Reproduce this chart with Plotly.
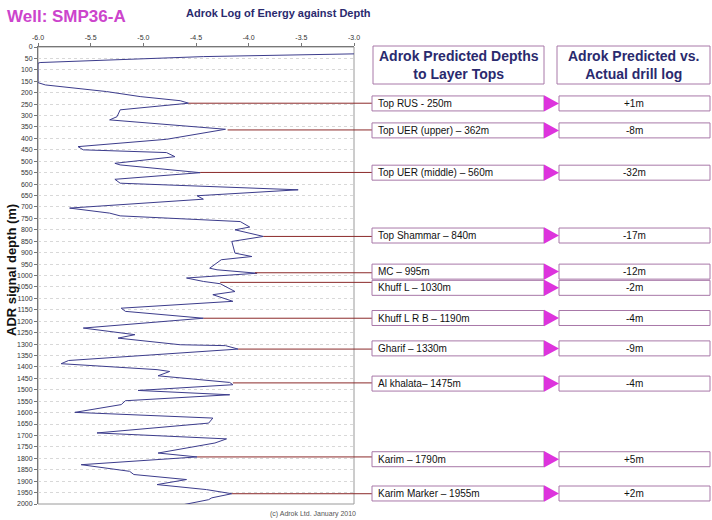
import plotly.graph_objects as go

# ---- data ----
depth = [30, 35, 42, 68, 71, 156, 166, 195, 217, 235, 246, 275, 305, 319, 360, 404, 436, 450, 462, 480,
         509, 516, 550, 579, 596, 625, 651, 666, 705, 727, 739, 764, 788, 800, 829, 851, 902, 917, 931,
         968, 975, 990, 1011, 1026, 1036, 1070, 1084, 1113, 1143, 1157, 1187, 1230, 1259, 1274, 1303,
         1307, 1322, 1372, 1386, 1412, 1420, 1439, 1468, 1478, 1503, 1522, 1548, 1565, 1599, 1624, 1646,
         1689, 1715, 1733, 1777, 1794, 1828, 1857, 1871, 1893, 1915, 1937, 1955, 1973, 1981, 2003]
energy = [-3.0, -3.64, -4.43, -5.98, -6.0, -6.0, -5.93, -5.35, -5.03, -4.65, -4.57, -5.22, -5.25, -5.32,
          -4.22, -4.78, -5.62, -5.57, -4.78, -4.70, -5.27, -5.22, -4.46, -5.27, -5.22, -3.53, -4.49,
          -4.43, -5.70, -5.32, -5.22, -4.08, -3.99, -4.13, -3.86, -4.16, -4.13, -3.97, -4.26, -4.37,
          -4.30, -3.92, -4.59, -4.43, -4.27, -4.13, -4.34, -4.15, -5.21, -5.17, -4.43, -5.57, -5.08,
          -5.24, -4.65, -4.22, -4.10, -5.71, -5.78, -4.87, -4.75, -4.86, -4.18, -4.15, -5.05, -4.18,
          -5.17, -5.21, -5.65, -4.34, -4.38, -5.44, -4.21, -4.32, -4.86, -4.49, -5.59, -5.13, -5.09,
          -4.59, -4.87, -4.40, -4.16, -4.35, -4.38, -4.62]

layer_names = ["Top RUS - 250m", "Top UER (upper) \u2013 362m", "Top UER (middle) \u2013 560m",
               "Top Shammar \u2013 840m", "MC \u2013 995m", "Khuff L \u2013 1030m", "Khuff L R B \u2013 1190m",
               "Gharif \u2013 1330m", "Al khalata\u2013 1475m", "Karim \u2013 1790m", "Karim Marker \u2013 1955m"]
layer_diff = ["+1m", "-8m", "-32m", "-17m", "-12m", "-2m", "-4m", "-9m", "-4m", "+5m", "+2m"]
leader_depth = [246, 363, 549, 829, 988, 1030, 1187, 1322, 1470, 1794, 1955]
leader_start = [-4.57, -4.20, -4.46, -3.86, -3.94, -4.27, -4.43, -4.10, -4.15, -4.49, -4.16]
row_depth = [247, 365, 550, 825, 983, 1054, 1186, 1319, 1473, 1804, 1954]

x_ticks = [-6.0, -5.5, -5.0, -4.5, -4.0, -3.5, -3.0]
y_ticks = list(range(0, 2001, 50))

W, H = 712, 520
def px(x):
    return x / W
def py(y):
    return 1 - y / H

fig = go.Figure()
fig.add_trace(go.Scatter(x=energy, y=depth, mode="lines",
                         line=dict(color="#3c3c8c", width=1), showlegend=False, hoverinfo="skip"))

shapes = []
annotations = []
half = 7.5 / 0.2287  # half box height in metres
box_col = "#a878a8"
font_fam = "Liberation Sans, Arial"
for i, name in enumerate(layer_names):
    d = row_depth[i]
    shapes.append(dict(type="line", xref="x", yref="y", x0=leader_start[i], x1=-3.0,
                       y0=leader_depth[i], y1=leader_depth[i], line=dict(color="#8b2a2a", width=1)))
    shapes.append(dict(type="line", xref="paper", yref="y", x0=px(354), x1=px(372),
                       y0=leader_depth[i], y1=leader_depth[i], line=dict(color="#8b2a2a", width=1)))
    shapes.append(dict(type="rect", xref="paper", yref="y", x0=px(372), x1=px(544),
                       y0=d - half, y1=d + half, line=dict(color=box_col, width=1), fillcolor="white"))
    shapes.append(dict(type="rect", xref="paper", yref="y", x0=px(559), x1=px(710),
                       y0=d - half, y1=d + half, line=dict(color=box_col, width=1), fillcolor="white"))
    shapes.append(dict(type="path", xref="paper", yref="y",
                       path=f"M {px(544)},{d - half - 3} L {px(559)},{d} L {px(544)},{d + half + 3} Z",
                       line=dict(color="#dd33dd", width=0), fillcolor="#dd33dd"))
    annotations.append(dict(xref="paper", yref="y", x=px(376), y=d, text=name, showarrow=False,
                            xanchor="left", yanchor="middle",
                            font=dict(family=font_fam, size=10, color="#111")))
    annotations.append(dict(xref="paper", yref="y", x=px(634), y=d, text=layer_diff[i], showarrow=False,
                            xanchor="center", yanchor="middle",
                            font=dict(family=font_fam, size=10, color="#111")))

for x0, x1, txt in [(373, 544, "<b>Adrok Predicted Depths<br>to Layer Tops</b>"),
                    (557, 710, "<b>Adrok Predicted vs.<br>Actual drill log</b>")]:
    shapes.append(dict(type="rect", xref="paper", yref="paper", x0=px(x0), x1=px(x1),
                       y0=py(84), y1=py(46), line=dict(color=box_col, width=1), fillcolor="white"))
    annotations.append(dict(xref="paper", yref="paper", x=px((x0 + x1) / 2), y=py(65), text=txt,
                            showarrow=False, xanchor="center", yanchor="middle",
                            font=dict(family=font_fam, size=14, color="#2a2a6e")))

shapes.append(dict(type="rect", xref="paper", yref="paper", x0=px(38), x1=px(354),
                   y0=py(504), y1=py(47), line=dict(color="#9a9a9a", width=1), layer="below"))

annotations += [
    dict(xref="paper", yref="paper", x=px(5), y=py(16), text="<b>Well: SMP36-A</b>", showarrow=False,
         xanchor="left", yanchor="middle", font=dict(family=font_fam, size=17, color="#cc44cc")),
    dict(xref="paper", yref="paper", x=px(278), y=py(13), text="<b>Adrok Log of Energy against Depth</b>",
         showarrow=False, xanchor="center", yanchor="middle",
         font=dict(family=font_fam, size=11, color="#2a2a6e")),
    dict(xref="paper", yref="paper", x=px(11), y=py(270), text="<b>ADR signal depth (m)</b>", showarrow=False,
         textangle=-90, xanchor="center", yanchor="middle",
         font=dict(family=font_fam, size=13, color="#111")),
    dict(xref="paper", yref="paper", x=px(313), y=py(514), text="(c) Adrok Ltd. January 2010", showarrow=False,
         xanchor="center", yanchor="middle", font=dict(family=font_fam, size=7, color="#555")),
]

fig.update_layout(
    width=W, height=H, margin=dict(l=0, r=0, t=0, b=0),
    paper_bgcolor="white", plot_bgcolor="white", showlegend=False,
    shapes=shapes, annotations=annotations,
    xaxis=dict(domain=[px(38), px(354)], range=[-6.0, -3.0], side="top", tickvals=x_ticks,
               ticktext=[f"{v:.1f}" for v in x_ticks], showgrid=False, zeroline=False,
               showline=True, linecolor="#777", linewidth=1, ticks="outside", ticklen=3, tickcolor="#777",
               tickfont=dict(family=font_fam, size=7, color="#333"), automargin=False),
    yaxis=dict(domain=[py(504), py(47)], range=[2000, 0], tickvals=y_ticks,
               ticktext=[str(v) for v in y_ticks], showgrid=True, gridcolor="#d8d8d8", griddash="dot",
               gridwidth=1, zeroline=False, showline=True, linecolor="#777", linewidth=1,
               ticks="outside", ticklen=3, tickcolor="#777",
               tickfont=dict(family=font_fam, size=7, color="#333"), automargin=False),
)

fig.write_html("out.html", config={"displayModeBar": False},
               post_script="document.body.style.margin='0';document.body.style.overflow='hidden';")
